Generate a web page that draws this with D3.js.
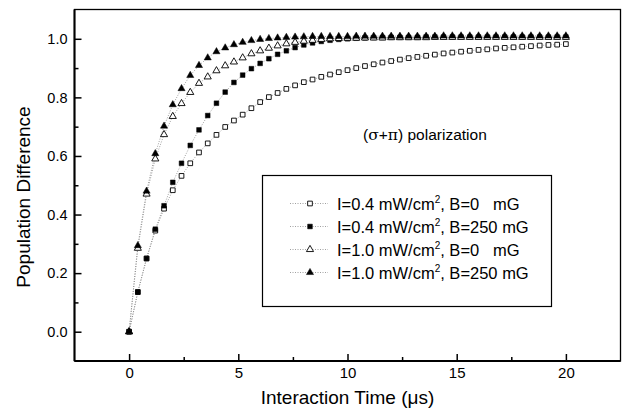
<!DOCTYPE html>
<html>
<head>
<meta charset="utf-8">
<script src="https://cdn.jsdelivr.net/npm/d3@7"></script>
<style>
  body { margin: 0; background: #fff; }
  text { font-family: "Liberation Sans", Arial, sans-serif; fill: #000; }
</style>
</head>
<body>
<div id="chart"></div>
<script>
// interaction time, microseconds
const times = [0, 0.4, 0.8, 1.2, 1.6, 2, 2.4, 2.8, 3.2, 3.6, 4, 4.4, 4.8, 5.2, 5.6, 6, 6.4, 6.8, 7.2, 7.6,
  8, 8.4, 8.8, 9.2, 9.6, 10, 10.4, 10.8, 11.2, 11.6, 12, 12.4, 12.8, 13.2, 13.6, 14, 14.4, 14.8, 15.2, 15.6,
  16, 16.4, 16.8, 17.2, 17.6, 18, 18.4, 18.8, 19.2, 19.6, 20];

// I=0.4 mW/cm2, B=0 mG (open squares)
const lowB0 = [0, 0.135, 0.25, 0.345, 0.42, 0.483, 0.532, 0.575, 0.612, 0.643, 0.672, 0.699, 0.721, 0.741, 0.763,
  0.784, 0.801, 0.815, 0.829, 0.841, 0.852, 0.861, 0.870, 0.878, 0.886, 0.893, 0.900, 0.907, 0.913, 0.919,
  0.924, 0.929, 0.934, 0.938, 0.942, 0.946, 0.950, 0.953, 0.956, 0.959, 0.962, 0.964, 0.967, 0.969, 0.971,
  0.973, 0.975, 0.977, 0.979, 0.980, 0.982];

// I=0.4 mW/cm2, B=250 mG (filled squares)
const lowB250 = [0, 0.136, 0.25, 0.35, 0.43, 0.51, 0.575, 0.636, 0.689, 0.738, 0.780, 0.818, 0.851, 0.876, 0.898,
  0.916, 0.932, 0.947, 0.959, 0.970, 0.979, 0.986, 0.991, 0.995, 0.998, 1.000, 1.002, 1.003, 1.004, 1.004,
  1.005, 1.005, 1.005, 1.005, 1.006, 1.006, 1.006, 1.006, 1.006, 1.006, 1.006, 1.006, 1.006, 1.006, 1.006,
  1.006, 1.006, 1.006, 1.006, 1.006, 1.006];

// I=1.0 mW/cm2, B=0 mG (open triangles)
const highB0 = [0, 0.285, 0.47, 0.59, 0.673, 0.735, 0.779, 0.817, 0.848, 0.870, 0.891, 0.908, 0.921, 0.935, 0.949,
  0.959, 0.968, 0.976, 0.983, 0.988, 0.992, 0.995, 0.998, 1.000, 1.001, 1.002, 1.002, 1.003, 1.003, 1.003,
  1.004, 1.004, 1.004, 1.004, 1.004, 1.005, 1.005, 1.005, 1.005, 1.005, 1.005, 1.005, 1.005, 1.005, 1.005,
  1.005, 1.005, 1.005, 1.005, 1.005, 1.005];

// I=1.0 mW/cm2, B=250 mG (filled triangles)
const highB250 = [0, 0.294, 0.48, 0.608, 0.702, 0.775, 0.83, 0.875, 0.909, 0.935, 0.956, 0.969, 0.980, 0.988, 0.994,
  0.998, 1.001, 1.003, 1.005, 1.006, 1.007, 1.008, 1.008, 1.008, 1.008, 1.008, 1.009, 1.009, 1.009, 1.009,
  1.009, 1.009, 1.009, 1.009, 1.009, 1.009, 1.010, 1.010, 1.010, 1.010, 1.010, 1.010, 1.010, 1.010, 1.010,
  1.010, 1.010, 1.010, 1.010, 1.010, 1.010];

const intensities = ["0.4", "0.4", "1.0", "1.0"];
const fields = ["0   ", "250 ", "0   ", "250 "];
const xTicks = [0, 5, 10, 15, 20];
const yTicks = [0, 0.2, 0.4, 0.6, 0.8, 1.0];

// marker style per series: symbol + filled or not
const series = [
  {values: lowB0, symbol: d3.symbolSquare, size: 22, filled: false},
  {values: lowB250, symbol: d3.symbolSquare, size: 22, filled: true},
  {values: highB0, symbol: d3.symbolTriangle, size: 22, filled: false},
  {values: highB250, symbol: d3.symbolTriangle, size: 22, filled: true}
];

const W = 624, H = 412;
const margin = {top: 9.5, right: 3.5, bottom: 51, left: 74.5};
const width = W - margin.left - margin.right;
const height = H - margin.top - margin.bottom;

const svg = d3.select("#chart").append("svg")
  .attr("width", W)
  .attr("height", H);

const g = svg.append("g")
  .attr("transform", `translate(${margin.left},${margin.top})`);

const x = d3.scaleLinear().domain([-2.5, 22.5]).range([0, width]);
const y = d3.scaleLinear().domain([-0.1, 1.1]).range([height, 0]);

// minor ticks first
g.append("g")
  .attr("transform", `translate(0,${height})`)
  .call(d3.axisBottom(x).tickValues([2.5, 7.5, 12.5, 17.5]).tickSize(-4).tickFormat(""))
  .call(a => a.select(".domain").remove());
g.append("g")
  .call(d3.axisLeft(y).tickValues([0.1, 0.3, 0.5, 0.7, 0.9]).tickSize(-4).tickFormat(""))
  .call(a => a.select(".domain").remove());

const xAxis = g.append("g")
  .attr("transform", `translate(0,${height})`)
  .call(d3.axisBottom(x).tickValues(xTicks).tickSize(-7).tickPadding(6).tickFormat(d3.format("d")));
xAxis.select(".domain").remove();
xAxis.selectAll("text").attr("font-size", 15);

const yAxis = g.append("g")
  .call(d3.axisLeft(y).tickValues(yTicks).tickSize(-7).tickPadding(7).tickFormat(d3.format(".1f")));
yAxis.select(".domain").remove();
yAxis.selectAll("text").attr("font-size", 14.5);

g.selectAll(".tick line").attr("stroke", "#000").attr("stroke-width", 1.5);

// frame
g.append("rect")
  .attr("width", width).attr("height", height)
  .attr("fill", "none").attr("stroke", "#000").attr("stroke-width", 1.3);
g.append("line")
  .attr("x1", 0).attr("x2", 0).attr("y1", 0).attr("y2", height)
  .attr("stroke", "#000").attr("stroke-width", 2);
g.append("line")
  .attr("x1", 0).attr("x2", width).attr("y1", height).attr("y2", height)
  .attr("stroke", "#000").attr("stroke-width", 2);

// curves
const line = d3.line().x((d, i) => x(times[i])).y(d => y(d));

series.forEach(s => {
  g.append("path")
    .datum(s.values)
    .attr("d", line)
    .attr("fill", "none")
    .attr("stroke", "#888")
    .attr("stroke-width", 0.8)
    .attr("stroke-dasharray", "1,1.5");
});

series.forEach(s => {
  const sym = d3.symbol().type(s.symbol).size(s.size);
  g.selectAll(null)
    .data(s.values)
    .enter()
    .append("path")
    .attr("d", sym)
    .attr("transform", (d, i) => `translate(${x(times[i])},${y(d)})`)
    .attr("fill", s.filled ? "#000" : "#fff")
    .attr("stroke", "#000")
    .attr("stroke-width", s.filled ? 0.5 : 0.9);
});

// annotation
const note = svg.append("text")
  .attr("x", 363)
  .attr("y", 140)
  .attr("font-size", 15.5);
note.append("tspan").text("(");
note.append("tspan").attr("font-family", "DejaVu Serif, serif").text("σ");
note.append("tspan").text("+");
note.append("tspan").attr("font-family", "DejaVu Serif, serif").text("π");
note.append("tspan").text(") polarization");

// legend
const legend = svg.append("g");
legend.append("rect")
  .attr("x", 262.5).attr("y", 175.5)
  .attr("width", 289).attr("height", 131)
  .attr("fill", "#fff").attr("stroke", "#000").attr("stroke-width", 1.2);

const rowY = d3.scaleLinear().domain([0, 3]).range([203.5, 272.5]);

series.forEach((s, i) => {
  const cy = rowY(i);
  legend.append("line")
    .attr("x1", 290).attr("x2", 328).attr("y1", cy).attr("y2", cy)
    .attr("stroke", "#888").attr("stroke-width", 0.8).attr("stroke-dasharray", "1,1.5");
  legend.append("path")
    .attr("d", d3.symbol().type(s.symbol).size(s.size))
    .attr("transform", `translate(310,${cy})`)
    .attr("fill", s.filled ? "#000" : "#fff")
    .attr("stroke", "#000")
    .attr("stroke-width", s.filled ? 0.5 : 0.9);
  const t = legend.append("text")
    .attr("x", 337)
    .attr("y", cy + 6)
    .attr("font-size", 16.5)
    .style("white-space", "pre");
  t.append("tspan").text(`I=${intensities[i]} mW/cm`);
  t.append("tspan").attr("font-size", 10).attr("dy", -7).text("2");
  t.append("tspan").attr("dy", 7).text(`, B=${fields[i]}mG`);
});

// axis titles
svg.append("text")
  .attr("x", margin.left + x(10))
  .attr("y", 404)
  .attr("text-anchor", "middle")
  .attr("font-size", 19)
  .text("Interaction Time (μs)");

svg.append("text")
  .attr("transform", "translate(30,197) rotate(-90)")
  .attr("text-anchor", "middle")
  .attr("font-size", 19)
  .text("Population Difference");
</script>
</body>
</html>
